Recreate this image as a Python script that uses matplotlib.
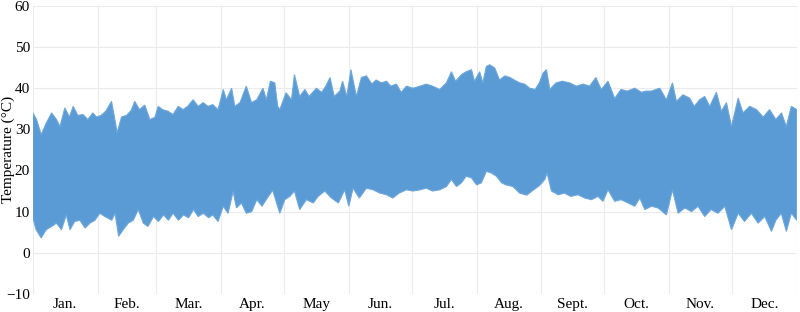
import numpy as np
import matplotlib.pyplot as plt

# upper envelope of the hourly temperature trace (day of year, deg C)
upper_day = [0, 1.8, 4, 6.5, 9, 11.3, 13, 15.3, 17.5, 19.3, 21.5, 24, 26.3, 28.7, 30.4,
             32.7, 35, 37.6, 39, 40.3, 42.4, 44.8, 47, 48.7, 51, 53.5, 55.9, 58.3, 59.9,
             62, 64.6, 67, 69.5, 71.8, 74, 76.6, 79, 81.4, 83.7, 86, 88.5, 91, 92.5, 95,
             96.5, 99, 102, 104.5, 107, 110, 111.6, 113.5, 115.6, 117, 118, 121, 123.6,
             125, 127.5, 130, 132, 135.5, 138, 140, 142, 144, 146.7, 148, 150, 152,
             154.6, 157, 159.4, 162, 164, 166.6, 169, 171, 173.7, 176, 178.5, 181.6,
             185, 188, 191, 194.4, 197.6, 200, 202, 204.8, 207, 209.6, 211, 213.5, 215,
             216.7, 218.3, 220.7, 223, 225.5, 228, 230, 232.7, 235, 237.4, 240, 242,
             243.8, 245.4, 247, 250, 253, 256.5, 259.7, 262.9, 266, 269, 271.6, 274.8,
             278, 281, 284, 287.6, 290.8, 293, 295.5, 299.5, 302.7, 305.6, 307.5, 310.6,
             313.8, 316, 318.6, 321, 323.4, 326.6, 329, 331.4, 333.8, 337, 339.3, 342.5,
             345.7, 349, 352, 355, 357.7, 360, 362.4, 365]
upper_temp = [34, 32.4, 28.7, 31.6, 34, 32.4, 30.7, 35.2, 33, 35.6, 33.4, 33.6, 32.4, 34, 33,
              33.4, 34.5, 36.8, 33, 29.2, 33, 33.4, 34.6, 36.8, 34.8, 35.9, 32.4, 32.9, 35.6,
              34.8, 34.4, 33.6, 35.6, 34.8, 35.6, 37.2, 35.6, 36.5, 35.6, 36, 34.8, 39.7,
              37.2, 40, 35.6, 36.5, 40.5, 36.5, 37.2, 40, 37.2, 41.7, 41.3, 35.6, 34.8,
              38.9, 37.2, 43.3, 38, 39.7, 38, 40, 39, 40.5, 42.6, 38, 39.3, 41.7, 38, 44.5,
              38, 42.6, 43, 41, 42, 41.3, 41.7, 40.5, 41, 39, 40.5, 40, 40.5, 41, 40.5,
              39.7, 41.3, 44, 41.7, 43.3, 44, 44.5, 41.7, 44, 41.3, 45.3, 45.7, 44.9, 42,
              43, 42.6, 42, 41.3, 41, 40, 39.7, 41.3, 43.7, 44.5, 39.7, 41.3, 41.7, 41.3,
              40.5, 41, 40.5, 42.6, 39.7, 41.7, 37.5, 39.7, 39.3, 40, 39, 39.3, 39.3, 40,
              37.2, 41.3, 36.8, 38.4, 37.6, 35.6, 37.2, 38, 35.6, 39, 34.4, 36.5, 30.7,
              37.6, 34, 35.6, 34.8, 33, 34.8, 32.4, 34, 30.7, 35.6, 34.8]

# lower envelope
lower_day = [0, 1.6, 4, 6.4, 9, 11.3, 13.7, 16, 17.8, 20, 22.5, 25, 27.3, 29.7, 32, 34.5,
             37.7, 39.3, 41, 43.2, 45.6, 48, 50.4, 52.8, 55, 57.7, 60, 62.5, 64.8, 67,
             69.6, 72, 74.4, 76.8, 79, 81.5, 84, 86, 88.5, 91, 93.3, 95.7, 97.3, 99.7,
             102, 104.6, 107, 109.5, 112, 114.6, 118, 120.4, 122.8, 125, 127.5, 130.7,
             134, 136.3, 139.5, 142.7, 146, 149, 151, 153, 156, 159.4, 162.6, 165.8, 169,
             172, 175, 178.5, 181.6, 185, 188, 191, 194.4, 197.6, 200, 202.4, 204.8, 207,
             209.6, 212, 214.3, 216.7, 219, 221.5, 224, 226, 229.4, 232.6, 236, 239, 242,
             244.6, 245.7, 247.8, 251, 254, 257, 260.5, 263.7, 266.9, 270, 272.4, 274.8,
             278, 281, 284.4, 287.6, 290, 292.4, 295.6, 298.7, 302.7, 305.6, 308.3, 311.5,
             314.7, 317.8, 321, 324, 327.4, 330.6, 333.8, 337, 340, 343.3, 346.5, 349.7,
             352.9, 355, 357.6, 360, 362.4, 365]
lower_temp = [8.5, 5.6, 3.6, 5.6, 6.4, 7.2, 5.6, 9.2, 5.6, 7.6, 7.9, 6, 7.2, 7.9, 9.6, 8.8,
              7.9, 9.6, 4, 5.6, 7.2, 7.9, 10.5, 7.2, 6.4, 8.8, 7.6, 9.2, 7.9, 9.6, 7.9, 9.2,
              8.5, 10.5, 8.8, 9.6, 8.5, 9.2, 7.6, 11.3, 9.6, 14.9, 10.9, 12.1, 9.6, 10,
              12.9, 11.3, 13.3, 15.2, 9.6, 12.9, 13.7, 15, 10.5, 12.9, 12.1, 13.7, 15, 13.3,
              12.1, 15.3, 11.3, 15.7, 13.3, 15.7, 15.3, 14.5, 14.1, 13.3, 14.5, 15.3, 15,
              15.3, 15.7, 15, 15.3, 16.1, 17.8, 16.1, 17, 18.6, 18.2, 16.5, 17, 19.8, 19.4,
              18.6, 17, 16.5, 16.1, 14.5, 14, 15.2, 16.3, 17.8, 19.4, 15, 14.1, 14.5, 13.7,
              14.1, 13.3, 12.9, 13.7, 12.5, 15.3, 12.5, 12.9, 12.1, 11.3, 13.3, 10.5, 11.3,
              10.9, 9.2, 15.3, 9.6, 10.9, 10, 11.3, 8.8, 10.5, 9.6, 11.3, 5.6, 9.6, 7.6,
              9.6, 7.2, 8.8, 5.2, 7.9, 9.6, 5.2, 9.6, 7.9]

month_starts = [0, 31, 59, 90, 120, 151, 181, 212, 243, 273, 304, 334, 365]
month_labels = ['Jan.', 'Feb.', 'Mar.', 'Apr.', 'May', 'Jun.', 'Jul.', 'Aug.',
                'Sept.', 'Oct.', 'Nov.', 'Dec.']

plt.rcParams['font.family'] = ['Liberation Serif', 'DejaVu Serif']

fig = plt.figure(figsize=(8, 3.12), dpi=100)
ax = fig.add_axes([0.041, 0.058, 0.955, 0.923])

xs = np.r_[upper_day, lower_day[::-1]]
ys = np.r_[upper_temp, lower_temp[::-1]]
ax.fill(xs, ys, color='#5b9bd5', lw=0.8, ec='#6ea7da', zorder=3)

ax.set_xlim(0, 365)
ax.set_ylim(-10, 60)
ax.set_yticks(range(-10, 61, 10))
ax.set_xticks(month_starts)
ax.set_xticklabels([])
mids = [(a + b) / 2 for a, b in zip(month_starts[:-1], month_starts[1:])]
ax.set_xticks(mids, minor=True)
ax.set_xticklabels(month_labels, minor=True)
ax.tick_params(which='both', length=0, labelsize=11, colors='black')
ax.tick_params(axis='x', which='minor', pad=3)
ax.tick_params(axis='y', pad=2)
ax.grid(True, which='major', color='#ebebeb', lw=0.8, zorder=0)
for s in ax.spines.values():
    s.set_visible(False)
ax.set_ylabel('Temperature (°C)', fontsize=11, va='center')
ax.yaxis.set_label_coords(-0.032, 0.5)

fig.savefig('out.png', dpi=100)
